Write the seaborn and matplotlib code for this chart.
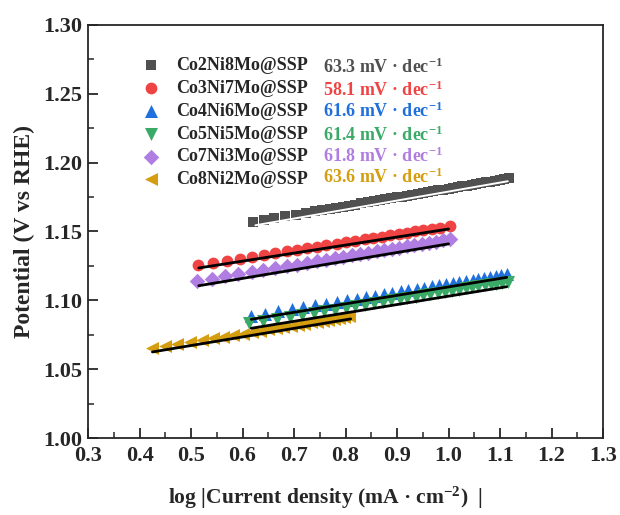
import matplotlib
matplotlib.use("Agg")
import matplotlib.pyplot as plt
import seaborn as sns
import pandas as pd

# sample names, colours, tafel slopes
names = ["Co2Ni8Mo@SSP", "Co3Ni7Mo@SSP", "Co4Ni6Mo@SSP",
         "Co5Ni5Mo@SSP", "Co7Ni3Mo@SSP", "Co8Ni2Mo@SSP"]
slopes = ["63.3", "58.1", "61.6", "61.4", "61.8", "63.6"]
colors = ["#505050", "#f04444", "#1f6fdc", "#3aaa66", "#b07ee2", "#d49e10"]
markers = ["s", "o", "^", "v", "D", "<"]
sizes = [48, 72, 88, 88, 62, 88]

# log|j| vs potential data
x_co2 = [0.620, 0.641, 0.662, 0.683, 0.703, 0.723, 0.740, 0.755, 0.769, 0.782,
         0.795, 0.807, 0.819, 0.831, 0.843, 0.855, 0.866, 0.877, 0.888, 0.899,
         0.910, 0.920, 0.930, 0.940, 0.950, 0.960, 0.970, 0.980, 0.990, 1.000,
         1.009, 1.018, 1.027, 1.036, 1.045, 1.054, 1.063, 1.072, 1.081, 1.090,
         1.099, 1.108, 1.117]
y_co2 = [1.1570, 1.1583, 1.1597, 1.1610, 1.1623, 1.1635, 1.1646, 1.1655, 1.1664, 1.1673,
         1.1681, 1.1688, 1.1696, 1.1704, 1.1711, 1.1719, 1.1726, 1.1733, 1.1740, 1.1747,
         1.1754, 1.1760, 1.1766, 1.1773, 1.1779, 1.1785, 1.1792, 1.1798, 1.1804, 1.1811,
         1.1816, 1.1822, 1.1828, 1.1833, 1.1839, 1.1845, 1.1850, 1.1856, 1.1862, 1.1868,
         1.1873, 1.1879, 1.1885]

x_co3 = [0.514, 0.543, 0.569, 0.595, 0.618, 0.642, 0.663, 0.686, 0.705, 0.725,
         0.744, 0.763, 0.783, 0.801, 0.818, 0.838, 0.854, 0.870, 0.886, 0.903,
         0.919, 0.935, 0.951, 0.967, 0.983, 1.003]
y_co3 = [1.1255, 1.1272, 1.1287, 1.1302, 1.1315, 1.1329, 1.1342, 1.1355, 1.1366, 1.1378,
         1.1389, 1.1400, 1.1411, 1.1422, 1.1432, 1.1443, 1.1453, 1.1462, 1.1471, 1.1481,
         1.1490, 1.1500, 1.1509, 1.1518, 1.1527, 1.1539]

x_co4 = [0.6165, 0.6437, 0.6695, 0.6955, 0.7181, 0.7408, 0.7616, 0.7829, 0.8023, 0.8217,
         0.8392, 0.8573, 0.8748, 0.8909, 0.9072, 0.9219, 0.9382, 0.9530, 0.9674, 0.9816,
         0.9951, 1.0082, 1.0210, 1.0340, 1.0470, 1.0579, 1.0695, 1.0806, 1.0916, 1.1019,
         1.1130]
y_co4 = [1.0886, 1.0903, 1.0919, 1.0935, 1.0949, 1.0963, 1.0975, 1.0989, 1.1000, 1.1012,
         1.1023, 1.1034, 1.1045, 1.1055, 1.1065, 1.1074, 1.1084, 1.1093, 1.1102, 1.1111,
         1.1119, 1.1127, 1.1135, 1.1143, 1.1151, 1.1158, 1.1165, 1.1172, 1.1179, 1.1185,
         1.1192]

x_co5 = [0.612, 0.640, 0.666, 0.692, 0.715, 0.738, 0.759, 0.780, 0.800, 0.819,
         0.837, 0.855, 0.872, 0.889, 0.905, 0.920, 0.936, 0.951, 0.965, 0.980,
         0.993, 1.007, 1.020, 1.033, 1.046, 1.058, 1.070, 1.082, 1.093, 1.104,
         1.115]
y_co5 = [1.0832, 1.0849, 1.0865, 1.0880, 1.0894, 1.0908, 1.0921, 1.0933, 1.0945, 1.0957,
         1.0968, 1.0979, 1.0989, 1.0999, 1.1009, 1.1018, 1.1027, 1.1036, 1.1045, 1.1054,
         1.1062, 1.1070, 1.1078, 1.1086, 1.1094, 1.1101, 1.1108, 1.1115, 1.1122, 1.1129,
         1.1135]

x_co7 = [0.511, 0.540, 0.566, 0.592, 0.618, 0.640, 0.663, 0.686, 0.705, 0.725,
         0.744, 0.763, 0.780, 0.796, 0.812, 0.828, 0.844, 0.861, 0.875, 0.890,
         0.904, 0.919, 0.933, 0.948, 0.962, 0.976, 0.990, 1.003]
y_co7 = [1.1140, 1.1158, 1.1174, 1.1190, 1.1206, 1.1220, 1.1234, 1.1248, 1.1260, 1.1272,
         1.1284, 1.1296, 1.1306, 1.1316, 1.1326, 1.1336, 1.1346, 1.1356, 1.1365, 1.1374,
         1.1383, 1.1392, 1.1401, 1.1410, 1.1419, 1.1427, 1.1436, 1.1444]

x_co8 = [0.4237, 0.4495, 0.4734, 0.4981, 0.5208, 0.5421, 0.5627, 0.5821, 0.6004, 0.6179,
         0.6340, 0.6501, 0.6650, 0.6792, 0.6936, 0.7072, 0.7200, 0.7324, 0.7441, 0.7557,
         0.7666, 0.7777, 0.7880, 0.7977, 0.8074]
y_co8 = [1.0651, 1.0667, 1.0681, 1.0696, 1.0710, 1.0723, 1.0736, 1.0747, 1.0758, 1.0769,
         1.0779, 1.0789, 1.0798, 1.0806, 1.0815, 1.0823, 1.0831, 1.0839, 1.0846, 1.0853,
         1.0860, 1.0866, 1.0872, 1.0878, 1.0884]

# linear fit lines (start, end)
fit_x = [[0.625, 1.115], [0.515, 1.000], [0.617, 1.113],
         [0.617, 1.113], [0.515, 1.000], [0.425, 0.810]]
fit_y = [[1.1545, 1.1865], [1.1235, 1.1518], [1.0862, 1.1167],
         [1.0797, 1.1099], [1.1106, 1.1410], [1.0625, 1.0865]]
fit_colors = ["white", "black", "black", "black", "black", "black"]

xs = [x_co2, x_co3, x_co4, x_co5, x_co7, x_co8]
ys = [y_co2, y_co3, y_co4, y_co5, y_co7, y_co8]

sns.set_style("ticks")
plt.rcParams["font.family"] = ["Liberation Serif", "DejaVu Serif"]
plt.rcParams["font.weight"] = "bold"
plt.rcParams["mathtext.fontset"] = "custom"
plt.rcParams["mathtext.rm"] = "Liberation Serif:bold"
plt.rcParams["mathtext.bf"] = "Liberation Serif:bold"
plt.rcParams["mathtext.it"] = "Liberation Serif:bold"

fig = plt.figure(figsize=(6.2, 5.15), dpi=100)
ax = fig.add_axes([0.142, 0.1495, 0.8306, 0.802])

for i in range(6):
    df = pd.DataFrame({"x": xs[i], "y": ys[i]})
    sns.scatterplot(data=df, x="x", y="y", marker=markers[i], color=colors[i],
                    s=sizes[i], linewidth=0, ax=ax, label=names[i], zorder=2)
for i in range(6):
    fd = pd.DataFrame({"x": fit_x[i], "y": fit_y[i]})
    sns.lineplot(data=fd, x="x", y="y", color=fit_colors[i],
                 lw=2.0 if i else 1.4, sort=False, ax=ax, zorder=3)

ax.set_xlim(0.3, 1.3)
ax.set_ylim(1.0, 1.3)
ax.set_xticks([0.3 + 0.1 * k for k in range(11)])
ax.set_xticklabels([f"{0.3 + 0.1 * k:.1f}" for k in range(11)])
ax.set_xticks([0.35 + 0.1 * k for k in range(10)], minor=True)
ax.set_yticks([1.0 + 0.05 * k for k in range(7)])
ax.set_yticklabels([f"{1.0 + 0.05 * k:.2f}" for k in range(7)])
ax.set_yticks([1.025 + 0.05 * k for k in range(6)], minor=True)
ax.tick_params(which="major", direction="in", length=7, width=1.3,
               labelsize=16, pad=4)
ax.tick_params(which="minor", direction="in", length=4, width=1.1)
ax.tick_params(axis="x", which="major", pad=6)
for lab in ax.get_xticklabels() + ax.get_yticklabels():
    lab.set_fontweight("bold")
for sp in ax.spines.values():
    sp.set_linewidth(1.3)
    sp.set_visible(True)

ax.set_xlabel("log |Current density (mA · cm$^{-2}$)  |", fontsize=15.5,
              fontweight="bold")
ax.xaxis.set_label_coords(0.462, -0.113)
ax.set_ylabel("Potential (V vs RHE)", fontsize=17, fontweight="bold", labelpad=6)

leg = ax.legend(loc="upper left", bbox_to_anchor=(0.105, 0.922), frameon=False,
                prop={"family": "Liberation Serif", "weight": "bold", "size": 13},
                handlelength=1.0, handletextpad=0.9, labelspacing=0.32,
                borderpad=0, borderaxespad=0, markerscale=1.0)

slope_y = [0.897, 0.843, 0.790, 0.732, 0.682, 0.630]
for i in range(6):
    ax.text(0.456, slope_y[i], slopes[i] + " mV · dec$^{-1}$", color=colors[i],
            transform=ax.transAxes, fontsize=13, fontweight="bold", va="center")

fig.savefig("out.png", dpi=100)
